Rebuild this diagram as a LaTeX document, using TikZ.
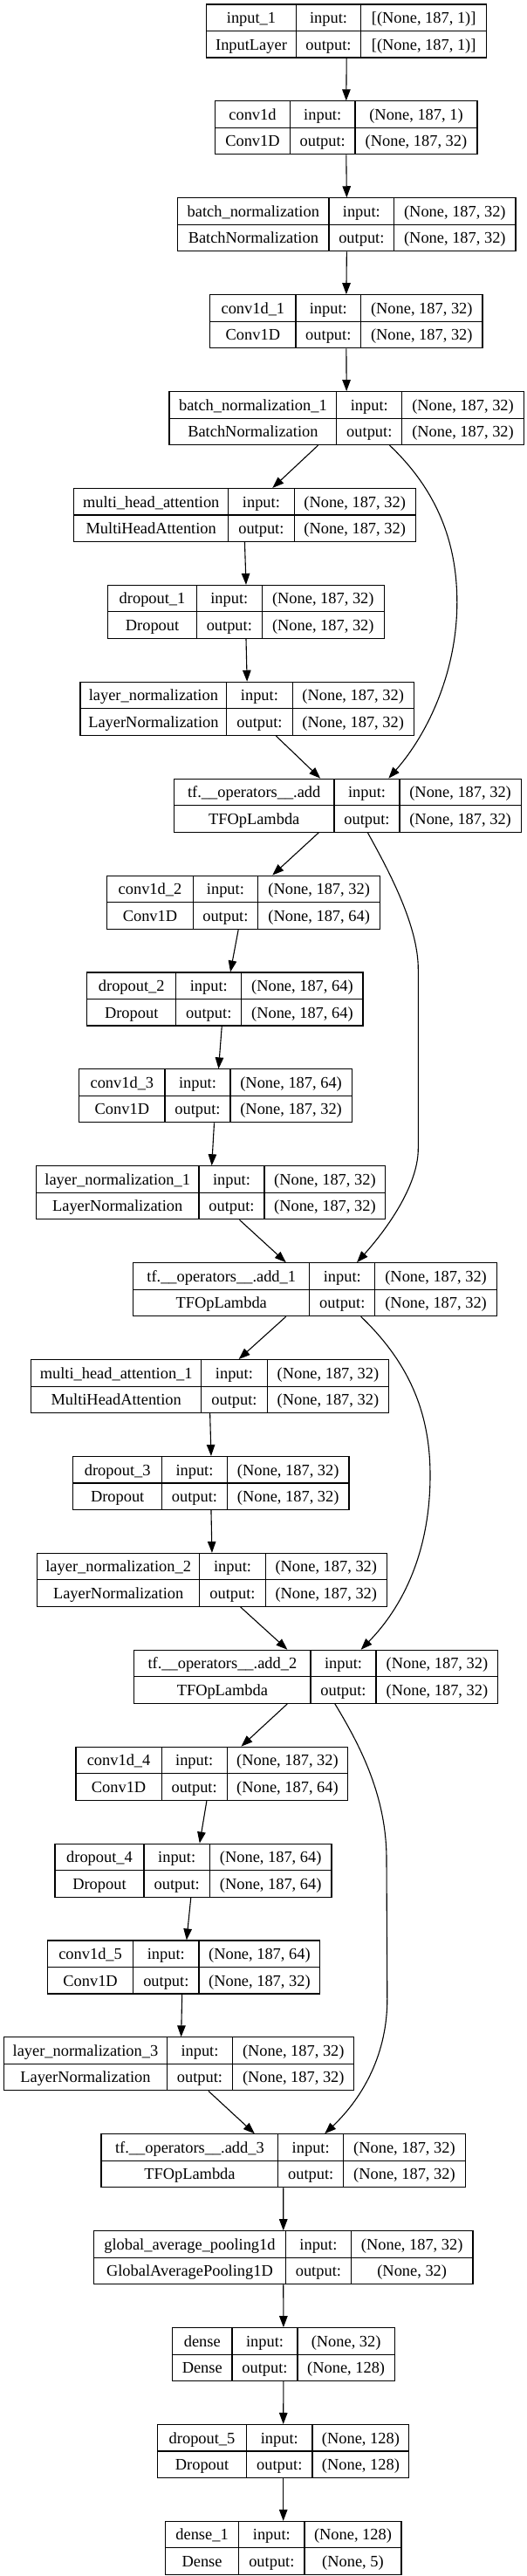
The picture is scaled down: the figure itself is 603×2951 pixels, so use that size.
\documentclass[tikz,border=0pt]{standalone}
\usepackage{fontspec}
\setmainfont{Liberation Serif}
\usetikzlibrary{arrows.meta}

\tikzset{
  layer/.style={draw, line width=1.1pt, inner sep=0pt, minimum height=61pt},
  cell/.style={inner sep=0pt, text height=16pt, text depth=3.5pt},
  edge/.style={line width=1.1pt, -{Triangle[length=13pt,width=9.5pt]}}
}

\begin{document}
\begin{tikzpicture}[x=1pt,y=-1pt,font=\fontsize{18.4}{20}\selectfont]
  \fill[white] (0,0) rectangle (603,2951);
  \useasboundingbox (0,0) rectangle (603,2951);

  % name / rank / left / divider 1 / divider 2 / right / layer / class / input / output
  \foreach \nm/\rank/\xl/\xa/\xb/\xr/\lab/\cls/\inp/\outp in {
    input1/0/236.6/339.4/413.6/557.8/input\_1/InputLayer/{[(None, 187, 1)]}/{[(None, 187, 1)]},
    conv0/1/246.6/332.4/407/547/conv1d/Conv1D/{(None, 187, 1)}/{(None, 187, 32)},
    bn0/2/203.7/377/451.7/591/batch\_normalization/BatchNormalization/{(None, 187, 32)}/{(None, 187, 32)},
    conv1/3/240.8/339/413.6/553/conv1d\_1/Conv1D/{(None, 187, 32)}/{(None, 187, 32)},
    bn1/4/194/385.8/460.8/600.3/batch\_normalization\_1/BatchNormalization/{(None, 187, 32)}/{(None, 187, 32)},
    mha0/5/84.7/261.7/337.1/476.2/multi\_head\_attention/MultiHeadAttention/{(None, 187, 32)}/{(None, 187, 32)},
    drop1/6/123.7/225.4/300.3/440.3/dropout\_1/Dropout/{(None, 187, 32)}/{(None, 187, 32)},
    ln0/7/92/259.8/335.1/474.3/layer\_normalization/LayerNormalization/{(None, 187, 32)}/{(None, 187, 32)},
    add0/8/199.5/383/458/597.2/tf.\_\_operators\_\_.add/TFOpLambda/{(None, 187, 32)}/{(None, 187, 32)},
    conv2/9/122.9/221.1/295.7/435.6/conv1d\_2/Conv1D/{(None, 187, 32)}/{(None, 187, 64)},
    drop2/10/99.7/201.8/276.8/416/dropout\_2/Dropout/{(None, 187, 64)}/{(None, 187, 64)},
    conv3/11/90.8/189/264/403.2/conv1d\_3/Conv1D/{(None, 187, 64)}/{(None, 187, 32)},
    ln1/12/41.4/228/303/441.8/layer\_normalization\_1/LayerNormalization/{(None, 187, 32)}/{(None, 187, 32)},
    add1/13/152.7/354.8/429.8/569.4/tf.\_\_operators\_\_.add\_1/TFOpLambda/{(None, 187, 32)}/{(None, 187, 32)},
    mha1/14/35.6/230.8/306.1/445.7/multi\_head\_attention\_1/MultiHeadAttention/{(None, 187, 32)}/{(None, 187, 32)},
    drop3/15/83.9/185.5/260.5/400/dropout\_3/Dropout/{(None, 187, 32)}/{(None, 187, 32)},
    ln2/16/42.5/228.8/304.2/443.4/layer\_normalization\_2/LayerNormalization/{(None, 187, 32)}/{(None, 187, 32)},
    add2/17/153.8/356/431/570.9/tf.\_\_operators\_\_.add\_2/TFOpLambda/{(None, 187, 32)}/{(None, 187, 32)},
    conv4/18/87/185.2/260.1/398.9/conv1d\_4/Conv1D/{(None, 187, 32)}/{(None, 187, 64)},
    drop4/19/63/165/240.4/380/dropout\_4/Dropout/{(None, 187, 64)}/{(None, 187, 64)},
    conv5/20/54.5/152.7/228/366.8/conv1d\_5/Conv1D/{(None, 187, 64)}/{(None, 187, 32)},
    ln3/21/4.6/191.3/266.7/405.9/layer\_normalization\_3/LayerNormalization/{(None, 187, 32)}/{(None, 187, 32)},
    add3/22/116/318.9/393.5/533.4/tf.\_\_operators\_\_.add\_3/TFOpLambda/{(None, 187, 32)}/{(None, 187, 32)},
    gap/23/107.5/327.4/402.4/542/global\_average\_pooling1d/GlobalAveragePooling1D/{(None, 187, 32)}/{(None, 32)},
    dense0/24/197.5/266/341/452.3/dense/Dense/{(None, 32)}/{(None, 128)},
    drop5/25/180.5/282.6/358/468.9/dropout\_5/Dropout/{(None, 128)}/{(None, 128)},
    dense1/26/189.4/273.7/349/460/dense\_1/Dense/{(None, 128)}/{(None, 5)}%
  }{
    \pgfmathsetmacro\ytop{5+110.9*\rank}
    \pgfmathsetmacro\boxw{\xr-\xl}
    \node[layer, minimum width=\boxw pt] (\nm) at ({(\xl+\xr)/2},{\ytop+30.5}) {};
    \draw[line width=1.1pt] (\xl,\ytop+30.5) -- (\xr,\ytop+30.5);
    \draw[line width=1.1pt] (\xa,\ytop) -- (\xa,\ytop+61);
    \draw[line width=1.1pt] (\xb,\ytop) -- (\xb,\ytop+61);
    \node[cell] (\nm-lab) at ({(\xl+\xa)/2},{\ytop+15.25}) {\lab};
    \node[cell] (\nm-cls) at ({(\xl+\xa)/2},{\ytop+45.75}) {\cls};
    \node[cell] (\nm-in) at ({(\xa+\xb)/2},{\ytop+15.25}) {input:};
    \node[cell] (\nm-out) at ({(\xa+\xb)/2},{\ytop+45.75}) {output:};
    \node[cell] (\nm-inp) at ({(\xb+\xr)/2},{\ytop+15.25}) {\inp};
    \node[cell] (\nm-outp) at ({(\xb+\xr)/2},{\ytop+45.75}) {\outp};
  }

  % bends of the skip connections
  \coordinate (skip0) at (523.8,690);
  \coordinate (skip1a) at (479.3,1110);
  \coordinate (skip1b) at (479.3,1316);
  \coordinate (skip2) at (493,1690);
  \coordinate (skip3a) at (443,2130);
  \coordinate (skip3b) at (443.8,2290);

  % stem
  \draw[edge] (input1.south) -- (conv0.north);
  \draw[edge] (conv0.south) -- (bn0.north);
  \draw[edge] (bn0.south) -- (conv1.north);
  \draw[edge] (conv1.south) -- (bn1.north);

  % first attention block
  \draw[edge] ([xshift=-32.6pt]bn1.south) -- ([xshift=31.9pt]mha0.north);
  \draw[edge] (mha0.south) -- (drop1.north);
  \draw[edge] (drop1.south) -- (ln0.north);
  \draw[edge] ([xshift=33pt]ln0.south) -- ([xshift=-31.2pt]add0.north);
  \draw[edge] ([xshift=49.4pt]bn1.south) .. controls +(53.5,50.7) and +(0,-70) .. (skip0)
    .. controls +(0,80) and +(44.7,-50.7) .. ([xshift=47pt]add0.north);

  % first feed forward block
  \draw[edge] ([xshift=-33pt]add0.south) -- ([xshift=33pt]conv2.north);
  \draw[edge] ([xshift=-6pt]conv2.south) -- ([xshift=6.2pt]drop2.north);
  \draw[edge] ([xshift=-3.6pt]drop2.south) -- ([xshift=3.5pt]conv3.north);
  \draw[edge] ([xshift=-1.5pt]conv3.south) -- ([xshift=1.1pt]ln1.north);
  \draw[edge] ([xshift=32.8pt]ln1.south) -- ([xshift=-33.3pt]add1.north);
  \draw[edge] ([xshift=23pt]add0.south) .. controls +(23.7,42.7) and +(0,-50) .. (skip1a)
    -- (skip1b) .. controls +(0,44) and +(31,-34.3) .. ([xshift=48pt]add1.north);

  % second attention block
  \draw[edge] ([xshift=-33.3pt]add1.south) -- ([xshift=33pt]mha1.north);
  \draw[edge] (mha1.south) -- (drop3.north);
  \draw[edge] (drop3.south) -- (ln2.north);
  \draw[edge] ([xshift=32.7pt]ln2.south) -- ([xshift=-33pt]add2.north);
  \draw[edge] ([xshift=52.6pt]add1.south) .. controls +(56.4,54) and +(0,-70) .. (skip2)
    .. controls +(0,90) and +(46.4,-47.3) .. ([xshift=51.3pt]add2.north);

  % second feed forward block
  \draw[edge] ([xshift=-33pt]add2.south) -- ([xshift=33.5pt]conv4.north);
  \draw[edge] ([xshift=-6pt]conv4.south) -- ([xshift=7.3pt]drop4.north);
  \draw[edge] ([xshift=-2.7pt]drop4.south) -- ([xshift=3.2pt]conv5.north);
  \draw[edge] ([xshift=-2pt]conv5.south) -- ([xshift=2.4pt]ln3.north);
  \draw[edge] ([xshift=33.7pt]ln3.south) -- ([xshift=-32.9pt]add3.north);
  \draw[edge] ([xshift=21.5pt]add2.south) .. controls +(31.2,51.3) and +(0,-70) .. (skip3a)
    -- (skip3b) .. controls +(0,70) and +(37.8,-35.7) .. ([xshift=47.5pt]add3.north);

  % head
  \draw[edge] (add3.south) -- (gap.north);
  \draw[edge] (gap.south) -- (dense0.north);
  \draw[edge] (dense0.south) -- (drop5.north);
  \draw[edge] (drop5.south) -- (dense1.north);
\end{tikzpicture}
\end{document}
